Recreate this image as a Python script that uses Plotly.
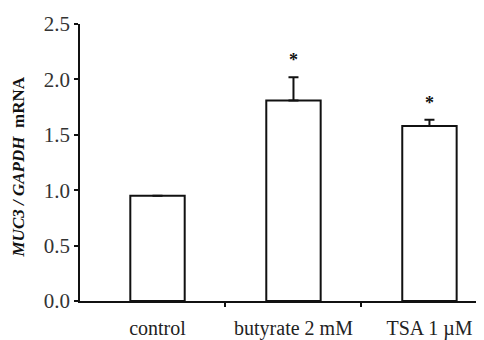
import plotly.graph_objects as go

categories = ["control", "butyrate 2 mM", "TSA 1 \u00b5M"]
values = [0.95, 1.81, 1.58]
errors = [0.0, 0.21, 0.055]
significant = [False, True, True]
y_ticks = [0.0, 0.5, 1.0, 1.5, 2.0, 2.5]
y_tick_labels = ["0.0", "0.5", "1.0", "1.5", "2.0", "2.5"]
y_title = "<b><i>MUC3 / GAPDH</i>  mRNA</b>"

FONT = "Liberation Serif, Times New Roman, serif"
x_pos = list(range(len(categories)))

fig = go.Figure()
fig.add_trace(go.Bar(
    x=x_pos, y=values, width=0.4,
    marker=dict(color="white", line=dict(color="#111111", width=2)),
    error_y=dict(type="data", symmetric=False, array=errors,
                 arrayminus=[0] * len(errors), color="#111111",
                 thickness=2, width=5),
    showlegend=False, xaxis="x", yaxis="y",
))
# invisible trace to attach category labels axis
fig.add_trace(go.Scatter(x=x_pos, y=values, mode="markers",
                         marker=dict(opacity=0), showlegend=False,
                         hoverinfo="skip", xaxis="x2", yaxis="y"))

for xi, v, e, s in zip(x_pos, values, errors, significant):
    if s:
        fig.add_annotation(x=xi, y=v + e, text="<b>*</b>", showarrow=False,
                           yanchor="bottom", yshift=5,
                           font=dict(family=FONT, size=18, color="#111111"))

fig.add_annotation(xref="paper", yref="paper", x=0, y=0.5, xanchor="center",
                   yanchor="middle", xshift=-62, yshift=-5, textangle=-90,
                   text=y_title, showarrow=False,
                   font=dict(family=FONT, size=17, color="#111111"))

rng = [-0.57, 2.46]
fig.update_layout(
    width=484, height=340,
    margin=dict(l=72, r=0, t=16, b=47),
    paper_bgcolor="white", plot_bgcolor="white",
    font=dict(family=FONT, color="#222222"),
    xaxis=dict(range=rng, tickmode="array", tickvals=[0.5, 1.5],
               ticktext=["", ""], ticks="outside", ticklen=4, tickwidth=1.5,
               tickcolor="#111111", showline=True, linecolor="#111111",
               linewidth=1.5, showgrid=False, zeroline=False),
    xaxis2=dict(range=rng, overlaying="x", side="bottom", tickmode="array",
                tickvals=x_pos, ticktext=categories, ticks="outside",
                ticklen=9, tickcolor="rgba(0,0,0,0)", showline=False,
                showgrid=False, zeroline=False,
                tickfont=dict(family=FONT, size=20, color="#222222")),
    yaxis=dict(range=[0, 2.5], tickmode="array", tickvals=y_ticks,
               ticktext=y_tick_labels, ticks="outside", ticklen=4,
               tickwidth=1.5, tickcolor="#111111", showline=True,
               linecolor="#111111", linewidth=1.5, showgrid=False,
               zeroline=False,
               tickfont=dict(family=FONT, size=21, color="#333333")),
)

fig.write_html("out.html")
